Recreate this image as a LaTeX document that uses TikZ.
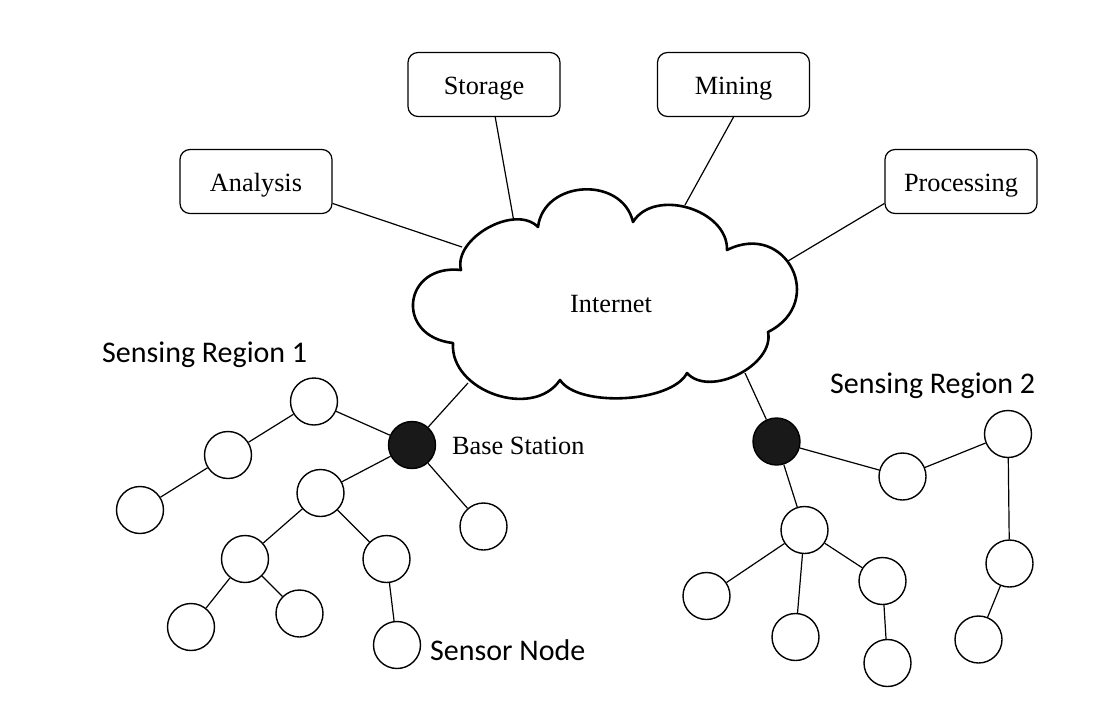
\documentclass[tikz,border=0pt]{standalone}
\usepackage{fontspec}
\setmainfont{Liberation Serif}
\newfontfamily\calib{Carlito}
\begin{document}
\begin{tikzpicture}[x=1pt,y=-1pt,
  box/.style={draw, line width=1.2pt, rounded corners=10pt, minimum width=152pt, minimum height=64pt, font=\fontsize{26.3}{30}\selectfont, inner sep=0pt, text height=20pt, text depth=0pt, fill=white},
  sn/.style={circle, draw, line width=1.4pt, fill=white, minimum size=47pt, inner sep=0pt},
  bs/.style={sn, fill=black!90},
  link/.style={line width=1.2pt},
  lbl/.style={font=\calib\fontsize{30}{34}\selectfont, inner sep=0pt, anchor=base west},
  slbl/.style={font=\fontsize{26.3}{30}\selectfont, inner sep=0pt, anchor=base west}]
\useasboundingbox[fill=white] (0,0) rectangle (1112,707);

% boxes
\node[box] (an) at (256,181.5) {Analysis};
\node[box] (st) at (484,84.5) {Storage};
\node[box] (mi) at (733.5,84.5) {Mining};
\node[box] (pr) at (961,181.5) {Processing};

% cloud border points
\coordinate (c1) at (461,270);
\coordinate (c2) at (538,227);
\coordinate (c3) at (633,222);
\coordinate (c4) at (727,250);
\coordinate (c5) at (768,332);
\coordinate (c6) at (687,373);
\coordinate (c7) at (560,380);
\coordinate (c8) at (453,343);
\coordinate (cA) at (462,247);
\coordinate (cS) at (514,222);
\coordinate (cM) at (685,205);
\coordinate (cP) at (788,261);
\coordinate (cB1) at (468,383);
\coordinate (cB2) at (745,373);

% sensing region 1
\node[bs] (b1) at (412,445) {};
\node[sn] (a1) at (314,401.5) {};
\node[sn] (a2) at (228,455) {};
\node[sn] (a3) at (140,510) {};
\node[sn] (a4) at (320.5,493) {};
\node[sn] (a5) at (483.5,526.5) {};
\node[sn] (a6) at (245,559) {};
\node[sn] (a7) at (386.5,559) {};
\node[sn] (a8) at (191,627) {};
\node[sn] (a9) at (299.5,613.5) {};
\node[sn] (a10) at (397,645) {};

% sensing region 2
\node[bs] (b2) at (776.5,441.5) {};
\node[sn] (r1) at (902.5,476.5) {};
\node[sn] (r2) at (1008,434) {};
\node[sn] (r3) at (1009.5,563.5) {};
\node[sn] (r4) at (978.5,639.5) {};
\node[sn] (r5) at (804.5,530) {};
\node[sn] (r6) at (706.5,596) {};
\node[sn] (r7) at (795.5,637) {};
\node[sn] (r8) at (882.5,581) {};
\node[sn] (r9) at (887.5,663) {};

% links
\draw[link] (an.-16) -- (cA);
\draw[link] (st.-71) -- (cS);
\draw[link] (mi.south) -- (cM);
\draw[link] (pr.196) -- (cP);
\draw[link] (cB1) -- (b1);
\draw[link] (cB2) -- (b2);

\draw[link] (a3) -- (a2);
\draw[link] (a2) -- (a1);
\draw[link] (a1) -- (b1);
\draw[link] (b1) -- (a4);
\draw[link] (b1) -- (a5);
\draw[link] (a4) -- (a6);
\draw[link] (a4) -- (a7);
\draw[link] (a6) -- (a8);
\draw[link] (a6) -- (a9);
\draw[link] (a7) -- (a10);

\draw[link] (b2) -- (r1);
\draw[link] (r1) -- (r2);
\draw[link] (r2) -- (r3);
\draw[link] (r3) -- (r4);
\draw[link] (b2) -- (r5);
\draw[link] (r5) -- (r6);
\draw[link] (r5) -- (r7);
\draw[link] (r5) -- (r8);
\draw[link] (r8) -- (r9);

% cloud
\draw[line width=2.6pt, fill=white, line join=round]
  (c1) to[bend left=75, looseness=0.95] (c2)
       to[bend left=80, looseness=1.28] (c3)
       to[bend left=75, looseness=1.06] (c4)
       to[bend left=90, looseness=1.85] (c5)
       to[bend left=75, looseness=0.95] (c6)
       to[bend left=60, looseness=0.67] (c7)
       to[bend left=75, looseness=1.09] (c8)
       to[bend left=90, looseness=2.05] (c1) -- cycle;
\node[font=\fontsize{26.3}{30}\selectfont, inner sep=0pt, anchor=base] (inet) at (611,312.5) {Internet};

% labels
\node[lbl] (l1) at (102,362) {Sensing Region 1};
\node[lbl] (l2) at (830,393) {Sensing Region 2};
\node[lbl] (l3) at (430,660) {Sensor Node};
\node[slbl] (l4) at (452,454) {Base Station};
\end{tikzpicture}
\end{document}
